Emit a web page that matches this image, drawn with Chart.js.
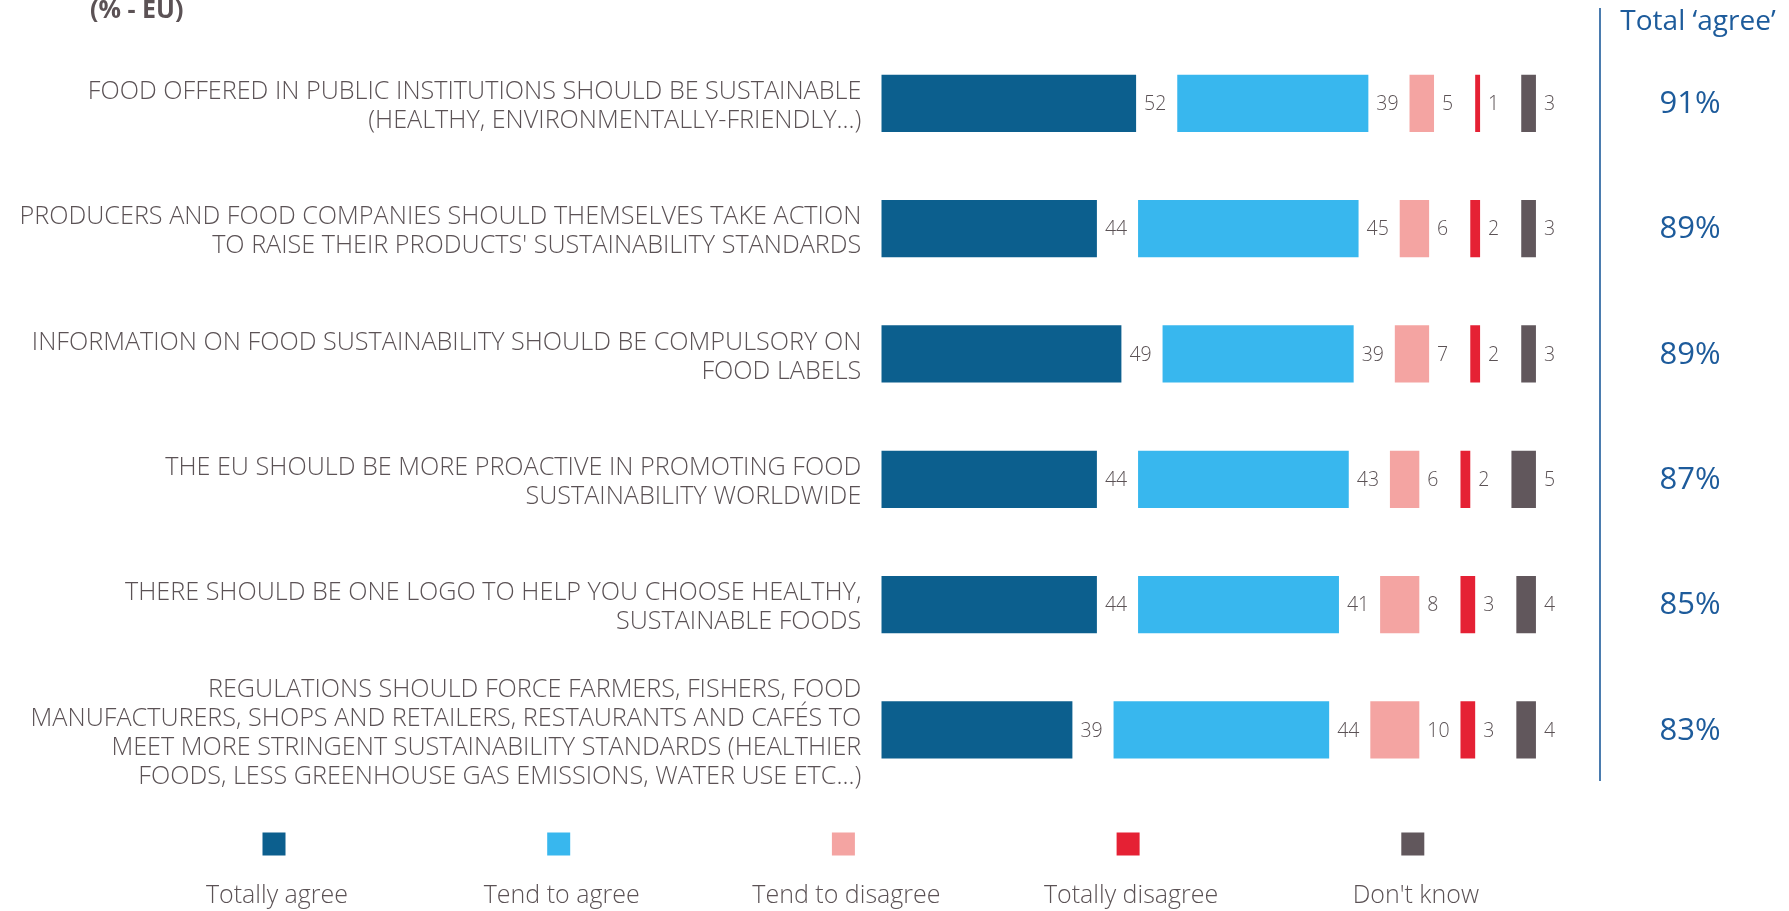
<!DOCTYPE html>
<html>
<head>
<meta charset="utf-8">
<script src="https://cdn.jsdelivr.net/npm/chart.js@4"></script>
<style>
  html, body { margin: 0; padding: 0; background: #fff; }
  #wrap { width: 1789px; height: 911px; position: relative; }
</style>
</head>
<body>
<div id="wrap"><canvas id="canvas"></canvas></div>
<script>
// statements (y axis)
var statements = [
  ["FOOD OFFERED IN PUBLIC INSTITUTIONS SHOULD BE SUSTAINABLE", "(HEALTHY, ENVIRONMENTALLY-FRIENDLY...)"],
  ["PRODUCERS AND FOOD COMPANIES SHOULD THEMSELVES TAKE ACTION", "TO RAISE THEIR PRODUCTS' SUSTAINABILITY STANDARDS"],
  ["INFORMATION ON FOOD SUSTAINABILITY SHOULD BE COMPULSORY ON", "FOOD LABELS"],
  ["THE EU SHOULD BE MORE PROACTIVE IN PROMOTING FOOD", "SUSTAINABILITY WORLDWIDE"],
  ["THERE SHOULD BE ONE LOGO TO HELP YOU CHOOSE HEALTHY,", "SUSTAINABLE FOODS"],
  ["REGULATIONS SHOULD FORCE FARMERS, FISHERS, FOOD", "MANUFACTURERS, SHOPS AND RETAILERS, RESTAURANTS AND CAFÉS TO",
   "MEET MORE STRINGENT SUSTAINABILITY STANDARDS (HEALTHIER", "FOODS, LESS GREENHOUSE GAS EMISSIONS, WATER USE ETC...)"]
];

var answerLabels = ["Totally agree", "Tend to agree", "Tend to disagree", "Totally disagree", "Don't know"];
var answerColors = ["#0c5f8e", "#38b7ee", "#f4a4a2", "#e52134", "#61575c"];

var totallyAgree    = [52, 44, 49, 44, 44, 39];
var tendAgree       = [39, 45, 39, 43, 41, 44];
var tendDisagree    = [5, 6, 7, 6, 8, 10];
var totallyDisagree = [1, 2, 2, 2, 3, 3];
var dontKnow        = [3, 3, 3, 5, 4, 4];
var totalAgree      = [91, 89, 89, 87, 85, 83];

var series = [totallyAgree, tendAgree, tendDisagree, totallyDisagree, dontKnow];

// space left between segments for the value label (in % units)
var GAP = 8.4;
var textColor = "#5b5255";
var blue = "#1d5b9b";
var FONT = "'Open Sans', sans-serif";

// floating bars: each segment starts after the previous one plus a gap
var datasets = series.map(function (vals, k) {
  return {
    label: answerLabels[k],
    backgroundColor: answerColors[k],
    borderWidth: 0,
    raw: vals,
    data: vals.map(function (v, i) {
      var start = k * GAP;
      for (var j = 0; j < k; j++) start += series[j][i];
      return [start, start + v];
    }),
    barPercentage: 0.457,
    categoryPercentage: 1,
  };
});

var extras = {
  id: "extras",
  afterDatasetsDraw: function (chart) {
    var ctx = chart.ctx;
    var yScale = chart.scales.y;
    ctx.save();

    // value labels next to each segment
    ctx.fillStyle = textColor;
    ctx.font = "300 19.5px " + FONT;
    ctx.textAlign = "left";
    ctx.textBaseline = "middle";
    chart.data.datasets.forEach(function (ds, k) {
      chart.getDatasetMeta(k).data.forEach(function (el, i) {
        ctx.fillText(ds.raw[i], Math.max(el.x, el.base) + 8, el.y + 1);
      });
    });

    // title
    ctx.font = "bold 25px " + FONT;
    ctx.fillText("(% - EU)", 90, 11);

    // total agree column
    ctx.strokeStyle = blue;
    ctx.lineWidth = 1.6;
    ctx.beginPath();
    ctx.moveTo(1600, 8);
    ctx.lineTo(1600, 781);
    ctx.stroke();

    ctx.fillStyle = blue;
    ctx.textAlign = "center";
    ctx.font = "28px " + FONT;
    ctx.fillText("Total \u2018agree\u2019", 1698, 22);
    ctx.font = "31px " + FONT;
    totalAgree.forEach(function (t, i) {
      ctx.fillText(t + "%", 1690, yScale.getPixelForValue(i) + 1);
    });

    // legend: square above the text
    ctx.font = "300 25px " + FONT;
    ctx.textBaseline = "alphabetic";
    chart.data.datasets.forEach(function (ds, k) {
      var cx = 274 + k * 284.7;
      ctx.fillStyle = ds.backgroundColor;
      ctx.fillRect(cx - 11.5, 832.5, 23, 23);
      ctx.fillStyle = textColor;
      ctx.fillText(ds.label, cx + 3, 903);
    });
    ctx.restore();
  },
};

var ctx = document.getElementById("canvas").getContext("2d");
var myChart = new Chart(ctx, {
  type: "bar",
  data: {
    labels: statements,
    datasets: datasets,
  },
  plugins: [extras],
  options: {
    indexAxis: "y",
    responsive: true,
    maintainAspectRatio: false,
    animation: false,
    layout: {
      padding: { top: 40.65, bottom: 118.4, left: 0, right: 221.7 },
    },
    plugins: {
      legend: { display: false },
      tooltip: { enabled: false },
    },
    scales: {
      x: {
        display: false,
        min: 0,
        max: 140,
        stacked: false,
      },
      y: {
        stacked: true,
        grid: { display: false, drawTicks: false },
        border: { display: false },
        afterFit: function (scale) {
          scale.width = 881.3;
          // tall multi-line labels should not push the plot area
          scale.paddingTop = 0;
          scale.paddingBottom = 0;
        },
        ticks: {
          color: textColor,
          padding: 20,
          labelOffset: 3,
          font: { family: FONT, size: 25.2, weight: "300", lineHeight: 1.15 },
        },
      },
    },
  },
});
</script>
</body>
</html>
